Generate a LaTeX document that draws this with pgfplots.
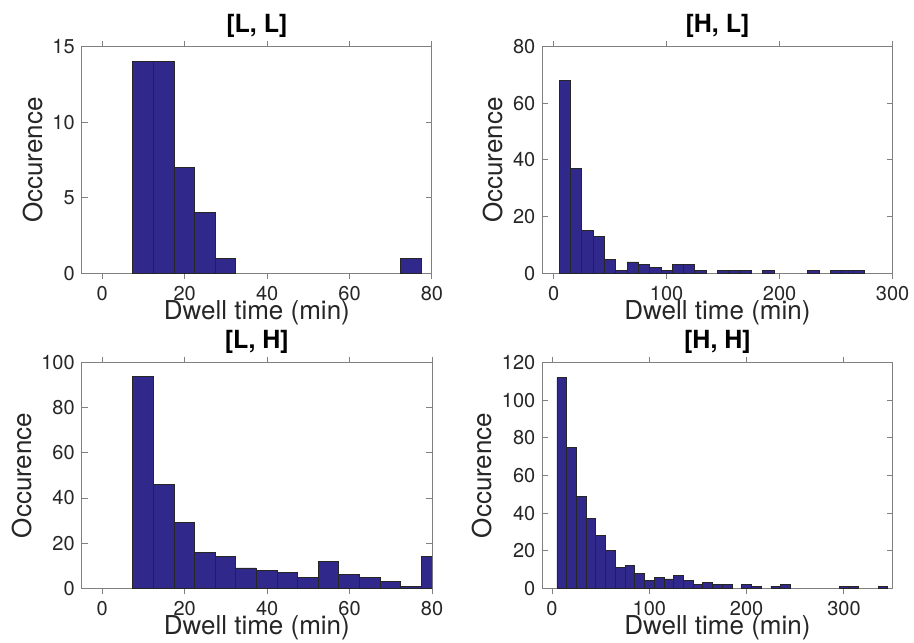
\documentclass[border=0pt]{standalone}
\usepackage{fontspec}
\setmainfont{TeX Gyre Heros}
\usepackage{pgfplots}
\pgfplotsset{compat=1.18}
\definecolor{barblue}{RGB}{49,40,140}
\definecolor{spine}{RGB}{128,128,128}
\definecolor{txt}{RGB}{38,38,38}
\pgfplotsset{
  hpanel/.style={
    scale only axis, width=175.15pt, anchor=south west,
    axis line style={spine, line width=0.5pt},
    tick style={spine, line width=0.5pt},
    tick align=inside, major tick length=3pt,
    ticklabel style={font=\fontsize{10}{12}\selectfont, text=txt},
    /pgf/number format/assume math mode=true,
    label style={font=\fontsize{13}{15}\selectfont, text=txt},
    xlabel shift=-7pt, ylabel shift=-2pt,
    title style={font=\fontsize{12.5}{14}\selectfont\bfseries, yshift=-5pt},
    xlabel={Dwell time (min)}, ylabel={Occurence},
    ymin=0, ybar,
  },
  hbar/.style={fill=barblue, draw=black!85, line width=0.4pt},
}
\begin{document}
\begin{tikzpicture}
\path[use as bounding box] (0,0) rectangle (457pt,321pt);

% [L, L]
\begin{axis}[hpanel, at={(40.85pt,184.35pt)}, height=113.3pt,
  title={[L, L]}, xmin=-5, xmax=80, ymax=15,
  xtick={0,20,40,60,80}, ytick={0,5,10,15}, bar width=5]
\addplot[hbar] coordinates {(9.9,14) (14.9,14) (19.9,7) (24.9,4) (29.9,1) (74.9,1)};
\end{axis}

% [H, L]
\begin{axis}[hpanel, at={(271.15pt,184.35pt)}, height=113.3pt,
  title={[H, L]}, xmin=-10, xmax=300, ymax=80,
  xtick={0,100,200,300}, ytick={0,20,40,60,80}, bar width=10]
\addplot[hbar] coordinates {(10,68) (20,37) (30,15) (40,13) (50,5) (60,1) (70,4)
  (80,3) (90,2) (100,1) (110,3) (120,3) (130,1) (150,1) (160,1) (170,1)
  (190,1) (230,1) (250,1) (260,1) (270,1)};
\end{axis}

% [L, H]
\begin{axis}[hpanel, at={(40.85pt,26.85pt)}, height=112.8pt,
  title={[L, H]}, xmin=-5, xmax=80, ymax=100,
  xtick={0,20,40,60,80}, ytick={0,20,40,60,80,100}, bar width=5]
\addplot[hbar] coordinates {(9.9,94) (14.9,46) (19.9,29) (24.9,16) (29.9,14)
  (34.9,9) (39.9,8) (44.9,7) (49.9,5) (54.9,12) (59.9,6) (64.9,5)
  (69.9,3) (74.9,1) (79.9,14)};
\end{axis}

% [H, H]
\begin{axis}[hpanel, at={(271.15pt,26.85pt)}, height=112.8pt,
  title={[H, H]}, xmin=-10, xmax=350, ymax=120,
  xtick={0,100,200,300}, ytick={0,20,40,60,80,100,120}, bar width=10]
\addplot[hbar] coordinates {(10,112) (20,75) (30,49) (40,37) (50,28) (60,20)
  (70,11) (80,12) (90,8) (100,4) (110,6) (120,5) (130,7) (140,4) (150,2)
  (160,3) (170,2) (180,2) (200,2) (210,1) (230,1) (240,2) (300,1) (310,1)
  (340,1)};
\end{axis}
\end{tikzpicture}
\end{document}
